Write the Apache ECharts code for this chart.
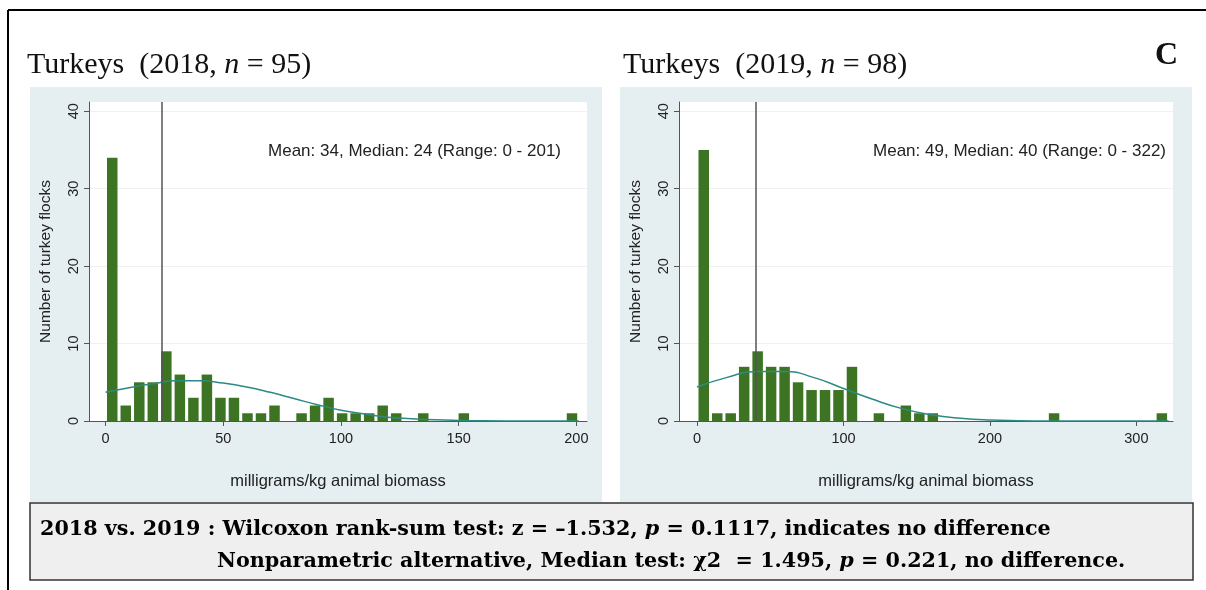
<!DOCTYPE html>
<html>
<head>
<meta charset="utf-8">
<script src="https://cdn.jsdelivr.net/npm/echarts@6/dist/echarts.min.js"></script>
<style>
  html, body {margin: 0; padding: 0; background: #fff;}
  #chart {width: 1206px; height: 590px;}
</style>
</head>
<body>
<div id="chart"></div>
<script>
// 35 bins each, counts
const binCount = 35;
const leftRange = [0, 201];
const rightRange = [0, 322];
const leftCounts = [34, 2, 5, 5, 9, 6, 3, 6, 3, 3, 1, 1, 2, 0, 1, 2, 3, 1, 1, 1, 2, 1, 0, 1, 0, 0, 1, 0, 0, 0, 0, 0, 0, 0, 1];
const rightCounts = [35, 1, 1, 7, 9, 7, 7, 5, 4, 4, 4, 7, 0, 1, 0, 2, 1, 1, 0, 0, 0, 0, 0, 0, 0, 0, 1, 0, 0, 0, 0, 0, 0, 0, 1];

// fitted normal curves, read at a few points
const leftCurveX = [0, 10, 20, 30, 40, 50, 60, 70, 80, 90, 100, 110, 120, 130, 140, 150, 160, 180, 201];
const leftCurveY = [3.7, 4.3, 4.8, 5.2, 5.2, 4.9, 4.4, 3.7, 2.9, 2.1, 1.4, 0.9, 0.5, 0.3, 0.15, 0.07, 0.03, 0, 0];
const rightCurveX = [0, 20, 40, 60, 80, 100, 120, 140, 160, 180, 200, 220, 240, 322];
const rightCurveY = [4.4, 5.6, 6.4, 6.4, 5.6, 4.2, 2.8, 1.6, 0.8, 0.35, 0.12, 0.04, 0.01, 0];

const leftMedian = 24;
const rightMedian = 40;
const leftXTicks = [0, 50, 100, 150, 200];
const rightXTicks = [0, 100, 200, 300];
const yTicks = [0, 10, 20, 30, 40];

const leftNote = 'Mean: 34, Median: 24 (Range: 0 - 201)';
const rightNote = 'Mean: 49, Median: 40 (Range: 0 - 322)';

function binData(counts, range) {
    let w = (range[1] - range[0]) / binCount;
    return counts.map((c, i) => [range[0] + (i + 0.5) * w, c]);
}
function curveData(xs, ys) {
    return xs.map((x, i) => [x, ys[i]]);
}

const serif = '"Liberation Serif", "DejaVu Serif", serif';
const boxSerif = '"DejaVu Serif", "Liberation Serif", serif';
const sans = '"Liberation Sans", Arial, sans-serif';

function xAxisFor(idx, min, max, ticks) {
    return {
        type: 'value', gridIndex: idx, min: min, max: max,
        name: 'milligrams/kg animal biomass', nameLocation: 'middle', nameGap: 52,
        nameTextStyle: {fontFamily: sans, fontSize: 16.5, color: '#222'},
        axisLine: {onZero: false, lineStyle: {color: '#555', width: 1}},
        axisTick: {customValues: ticks, length: 5, lineStyle: {color: '#555'}},
        axisLabel: {customValues: ticks, fontFamily: sans, fontSize: 14.5, color: '#222', margin: 10},
        splitLine: {show: false}
    };
}
function yAxisFor(idx) {
    return {
        type: 'value', gridIndex: idx, min: 0, max: 41.2,
        name: 'Number of turkey flocks', nameLocation: 'middle', nameGap: 35,
        nameTextStyle: {fontFamily: sans, fontSize: 15.5, color: '#222'},
        axisLine: {show: true, onZero: false, lineStyle: {color: '#555', width: 1}},
        axisTick: {show: true, customValues: yTicks, length: 5, lineStyle: {color: '#555'}},
        axisLabel: {customValues: yTicks, rotate: 90, fontFamily: sans, fontSize: 14.5, color: '#222', margin: 8},
        splitLine: {show: true, lineStyle: {color: '#eef1f2', width: 1}}
    };
}
function barSeries(idx, counts, range) {
    return {
        type: 'bar', xAxisIndex: idx, yAxisIndex: idx,
        data: binData(counts, range), barWidth: 10.5,
        itemStyle: {color: '#3d7424'}, z: 3
    };
}
function lineSeries(idx, xs, ys, median) {
    return {
        type: 'line', xAxisIndex: idx, yAxisIndex: idx,
        data: curveData(xs, ys), smooth: true, showSymbol: false,
        lineStyle: {color: '#2b8a84', width: 1.5}, z: 4,
        markLine: {
            silent: true, symbol: 'none', label: {show: false},
            lineStyle: {color: '#555', type: 'solid', width: 1.5},
            data: [{xAxis: median}]
        }
    };
}
function titleRich() {
    return {
        a: {fontFamily: serif, fontSize: 30, fontWeight: 'normal', color: '#111'},
        i: {fontFamily: serif, fontSize: 30, fontWeight: 'normal', fontStyle: 'italic', color: '#111'}
    };
}

let chart = echarts.init(document.getElementById('chart'));
chart.setOption({
    backgroundColor: '#fff',
    animation: false,
    title: [
        {
            left: 22, top: 45,
            text: '{a|Turkeys  (2018, }{i|n}{a| = 95)}',
            textStyle: {fontWeight: 'normal', rich: titleRich()}
        },
        {
            left: 618, top: 45,
            text: '{a|Turkeys  (2019, }{i|n}{a| = 98)}',
            textStyle: {fontWeight: 'normal', rich: titleRich()}
        },
        {
            left: 1150, top: 35, text: 'C',
            textStyle: {fontFamily: serif, fontSize: 32, fontWeight: 'bold', color: '#111'}
        }
    ],
    grid: [
        {left: 89, top: 102, width: 498, height: 319, show: true, backgroundColor: '#fff', borderWidth: 0},
        {left: 679, top: 102, width: 494, height: 319, show: true, backgroundColor: '#fff', borderWidth: 0}
    ],
    xAxis: [
        xAxisFor(0, -7, 204.5, leftXTicks),
        xAxisFor(1, -12.3, 325, rightXTicks)
    ],
    yAxis: [yAxisFor(0), yAxisFor(1)],
    series: [
        barSeries(0, leftCounts, leftRange),
        lineSeries(0, leftCurveX, leftCurveY, leftMedian),
        barSeries(1, rightCounts, rightRange),
        lineSeries(1, rightCurveX, rightCurveY, rightMedian)
    ],
    graphic: [
        // panel backgrounds
        {type: 'rect', z: -10, shape: {x: 30, y: 87, width: 572, height: 415}, style: {fill: '#e5eef1'}},
        {type: 'rect', z: -10, shape: {x: 620, y: 87, width: 572, height: 415}, style: {fill: '#e5eef1'}},
        // outer frame
        {type: 'line', z: 10, shape: {x1: 8, y1: 10, x2: 1206, y2: 10}, style: {stroke: '#000', lineWidth: 2}},
        {type: 'line', z: 10, shape: {x1: 8, y1: 10, x2: 8, y2: 590}, style: {stroke: '#000', lineWidth: 2}},
        // notes
        {type: 'text', z: 10, x: 561, y: 151, style: {text: leftNote, font: '17px ' + sans, fill: '#222', align: 'right', verticalAlign: 'middle'}},
        {type: 'text', z: 10, x: 1166, y: 151, style: {text: rightNote, font: '17px ' + sans, fill: '#222', align: 'right', verticalAlign: 'middle'}},
        // test box
        {type: 'rect', z: 10, shape: {x: 30, y: 503, width: 1163, height: 77}, style: {fill: '#efefef', stroke: '#333', lineWidth: 1.5}},
        {
            type: 'text', z: 11, x: 40, y: 530,
            style: {
                text: '{b|2018 vs. 2019 : Wilcoxon rank-sum test: z = \u20131.532, }{bi|p}{b| = 0.1117, indicates no difference}',
                verticalAlign: 'middle',
                rich: {
                    b: {fontFamily: boxSerif, fontSize: 20.7, fontWeight: 'bold', color: '#111'},
                    bi: {fontFamily: boxSerif, fontSize: 20.7, fontWeight: 'bold', fontStyle: 'italic', color: '#111'}
                }
            }
        },
        {
            type: 'text', z: 11, x: 217, y: 562,
            style: {
                text: '{b|Nonparametric alternative, Median test: }{c|\u03c72}{b|  = 1.495, }{bi|p}{b| = 0.221, no difference.}',
                verticalAlign: 'middle',
                rich: {
                    b: {fontFamily: boxSerif, fontSize: 20.7, fontWeight: 'bold', color: '#111'},
                    c: {fontFamily: boxSerif, fontSize: 20.7, fontWeight: 'bold', color: '#111'},
                    bi: {fontFamily: boxSerif, fontSize: 20.7, fontWeight: 'bold', fontStyle: 'italic', color: '#111'}
                }
            }
        }
    ]
});
</script>
</body>
</html>
